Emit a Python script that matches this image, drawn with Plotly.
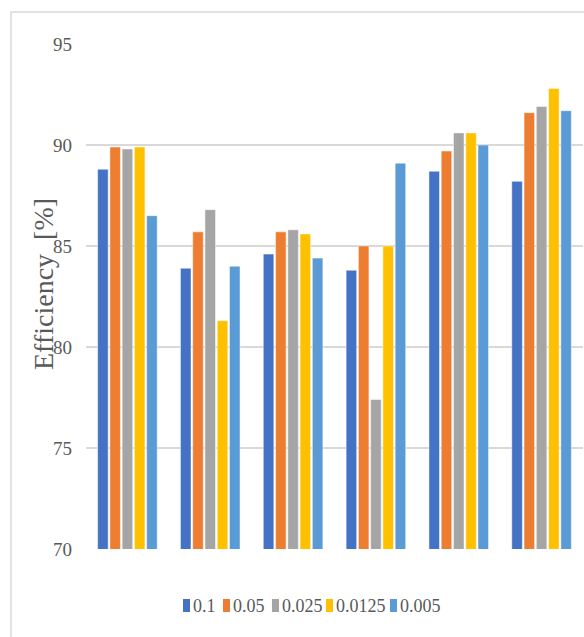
import plotly.graph_objects as go

# Six test cases, five step sizes each
cases = ["1", "2", "3", "4", "5", "6"]
step_sizes = ["0.1", "0.05", "0.025", "0.0125", "0.005"]

eff_0_1 = [88.8, 83.9, 84.6, 83.8, 88.7, 88.2]
eff_0_05 = [89.9, 85.7, 85.7, 85.0, 89.7, 91.6]
eff_0_025 = [89.8, 86.8, 85.8, 77.4, 90.6, 91.9]
eff_0_0125 = [89.9, 81.3, 85.6, 85.0, 90.6, 92.8]
eff_0_005 = [86.5, 84.0, 84.4, 89.1, 90.0, 91.7]

y_ticks = [70, 75, 80, 85, 90, 95]

series = [eff_0_1, eff_0_05, eff_0_025, eff_0_0125, eff_0_005]
colors = ["#4472C4", "#ED7D31", "#A5A5A5", "#FFC000", "#5B9BD5"]
text_gray = "#595959"
grid_gray = "#D9D9D9"

W, H = 584, 637
L, R, T, B = 86, 1, 44, 88
PW, PH = W - L - R, H - T - B


def px(x):
    return (x - L) / PW


def py(y):
    return (H - B - y) / PH


fig = go.Figure()
for name, vals, col in zip(step_sizes, series, colors):
    fig.add_trace(go.Bar(
        x=cases, y=vals, name=name,
        marker=dict(color=col, line=dict(color="rgba(255,255,255,0.6)", width=0.8)),
        showlegend=False,
    ))

# Legend row below the plot: small colour swatches followed by labels
legend_left = [183, 223, 272, 326, 390]
shapes = [
    # chart frame
    dict(type="rect", xref="paper", yref="paper",
         x0=px(11), x1=px(W + 5), y0=py(12), y1=py(H + 5),
         line=dict(color=grid_gray, width=1.5), fillcolor="rgba(0,0,0,0)", layer="below"),
]
annotations = []
for name, col, lx in zip(step_sizes, colors, legend_left):
    shapes.append(dict(type="rect", xref="paper", yref="paper",
                       x0=px(lx), x1=px(lx + 7), y0=py(612), y1=py(599),
                       line=dict(width=0), fillcolor=col))
    annotations.append(dict(x=px(lx + 8), y=py(606), xref="paper", yref="paper",
                            text=name, showarrow=False, xanchor="left", yanchor="middle",
                            font=dict(family="Liberation Serif", size=18, color=text_gray)))

annotations.append(dict(
    x=px(43), y=py(284), xref="paper", yref="paper",
    text="Efficiency\u00a0\u00a0[%]", textangle=-90, showarrow=False,
    xanchor="center", yanchor="middle",
    font=dict(family="Liberation Serif", size=28, color=text_gray),
))

fig.update_layout(
    width=W, height=H,
    margin=dict(l=L, r=R, t=T, b=B),
    paper_bgcolor="white", plot_bgcolor="white",
    barmode="group", bargap=0.26, bargroupgap=0.14,
    showlegend=False,
    shapes=shapes, annotations=annotations,
    xaxis=dict(showticklabels=False, showgrid=False, zeroline=False, ticks=""),
    yaxis=dict(range=[70, 95], tickvals=y_ticks, showgrid=True,
               gridcolor=grid_gray, gridwidth=1.6, zeroline=False,
               ticks="", ticklabelstandoff=13,
               tickfont=dict(family="Liberation Serif", size=19, color=text_gray)),
    font=dict(family="Liberation Serif", color=text_gray),
)

fig.write_html("out.html")
